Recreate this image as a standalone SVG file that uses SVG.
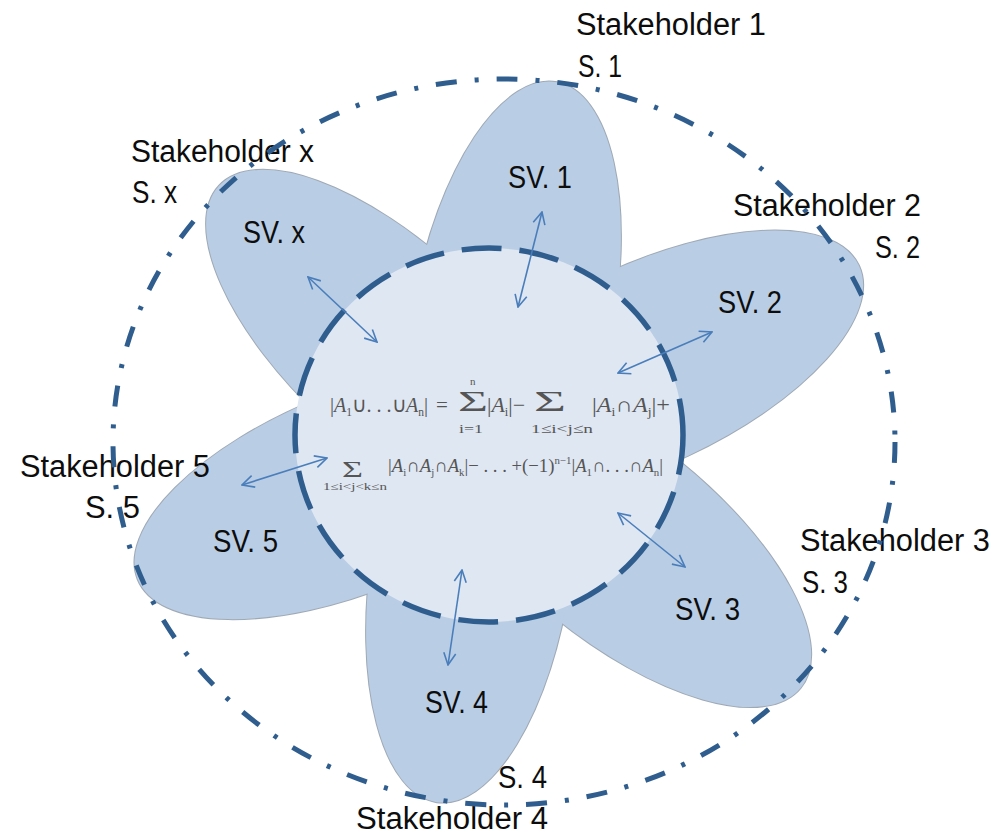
<svg xmlns="http://www.w3.org/2000/svg" xmlns:xlink="http://www.w3.org/1999/xlink" width="999" height="835" viewBox="0 0 999 835">
<style>
.lbl{font-family:"Liberation Sans",Arial,sans-serif;font-size:31px;fill:#0d0d0d}
.pf{fill:#b9cde5}
.po{fill:none;stroke:#9fa9b5;stroke-width:2}
.fm{font-family:"Liberation Serif","Times New Roman",serif;fill:#555555}
.conn{stroke:#4a7ebb;stroke-width:1.6;fill:none;marker-start:url(#ah);marker-end:url(#ah)}
</style>
<defs>
<marker id="ah" viewBox="0 0 14 14" refX="13" refY="7" markerWidth="14" markerHeight="14" markerUnits="userSpaceOnUse" orient="auto-start-reverse">
<path d="M1,1 L13,7 L1,13" fill="none" stroke="#4a7ebb" stroke-width="1.6"/>
</marker>
<ellipse id="e1" cx="513.4" cy="313.2" rx="235" ry="100" transform="rotate(-79.3 513.4 313.2)"/>
<ellipse id="e2" cx="646" cy="365" rx="235" ry="100" transform="rotate(-25 646 365)"/>
<ellipse id="e3" cx="618" cy="540" rx="235" ry="100" transform="rotate(39 618 540)"/>
<ellipse id="e4" cx="470.7" cy="569.6" rx="235" ry="100" transform="rotate(98.3 470.7 569.6)"/>
<ellipse id="e5" cx="355.6" cy="491.3" rx="235" ry="100" transform="rotate(158 355.6 491.3)"/>
<ellipse id="ex" cx="391" cy="346" rx="235" ry="100" transform="rotate(-137 391 346)"/>
</defs>
<rect width="999" height="835" fill="#ffffff"/>
<g id="petal-outlines">
<use xlink:href="#e1" href="#e1" class="po"/>
<use xlink:href="#e2" href="#e2" class="po"/>
<use xlink:href="#e3" href="#e3" class="po"/>
<use xlink:href="#e4" href="#e4" class="po"/>
<use xlink:href="#e5" href="#e5" class="po"/>
<use xlink:href="#ex" href="#ex" class="po"/>
</g>
<g id="stakeholder-1">
<use xlink:href="#e1" href="#e1" class="pf"/>
<text class="lbl" x="508" y="188" textLength="64" lengthAdjust="spacingAndGlyphs">SV. 1</text>
<text class="lbl" x="576" y="35" textLength="190" lengthAdjust="spacingAndGlyphs">Stakeholder 1</text>
<text class="lbl" x="578" y="77" textLength="44" lengthAdjust="spacingAndGlyphs">S. 1</text>
</g>
<g id="stakeholder-2">
<use xlink:href="#e2" href="#e2" class="pf"/>
<text class="lbl" x="718" y="313" textLength="64" lengthAdjust="spacingAndGlyphs">SV. 2</text>
<text class="lbl" x="733" y="216" textLength="188" lengthAdjust="spacingAndGlyphs">Stakeholder 2</text>
<text class="lbl" x="875" y="258" textLength="45" lengthAdjust="spacingAndGlyphs">S. 2</text>
</g>
<g id="stakeholder-3">
<use xlink:href="#e3" href="#e3" class="pf"/>
<text class="lbl" x="675" y="620" textLength="65" lengthAdjust="spacingAndGlyphs">SV. 3</text>
<text class="lbl" x="800" y="551" textLength="190" lengthAdjust="spacingAndGlyphs">Stakeholder 3</text>
<text class="lbl" x="802" y="593" textLength="46" lengthAdjust="spacingAndGlyphs">S. 3</text>
</g>
<g id="stakeholder-4">
<use xlink:href="#e4" href="#e4" class="pf"/>
<text class="lbl" x="425" y="713" textLength="63" lengthAdjust="spacingAndGlyphs">SV. 4</text>
<text class="lbl" x="356" y="829" textLength="192" lengthAdjust="spacingAndGlyphs">Stakeholder 4</text>
<text class="lbl" x="498" y="788" textLength="49" lengthAdjust="spacingAndGlyphs">S. 4</text>
</g>
<g id="stakeholder-5">
<use xlink:href="#e5" href="#e5" class="pf"/>
<text class="lbl" x="213" y="552" textLength="65" lengthAdjust="spacingAndGlyphs">SV. 5</text>
<text class="lbl" x="20" y="477" textLength="190" lengthAdjust="spacingAndGlyphs">Stakeholder 5</text>
<text class="lbl" x="85" y="518" textLength="55" lengthAdjust="spacingAndGlyphs">S. 5</text>
</g>
<g id="stakeholder-x">
<use xlink:href="#ex" href="#ex" class="pf"/>
<text class="lbl" x="243" y="243" textLength="62" lengthAdjust="spacingAndGlyphs">SV. x</text>
<text class="lbl" x="131" y="162" textLength="183" lengthAdjust="spacingAndGlyphs">Stakeholder x</text>
<text class="lbl" x="132" y="203" textLength="45" lengthAdjust="spacingAndGlyphs">S. x</text>
</g>
<g id="shared-core">
<ellipse cx="489" cy="435" rx="194" ry="187" fill="#dfe7f2" stroke="#2f5d8e" stroke-width="5.5" stroke-dasharray="40 18"/>
<g id="formula" class="fm">
<text x="330" y="412" font-size="21" textLength="98" lengthAdjust="spacingAndGlyphs">|<tspan font-style="italic">A</tspan><tspan font-size="12" dy="4">1</tspan><tspan dy="-4">∪. . .∪</tspan><tspan font-style="italic">A</tspan><tspan font-size="12" dy="4">n</tspan><tspan dy="-4">|</tspan></text>
<text x="436" y="412" font-size="21">=</text>
<text x="458" y="411" font-size="30" textLength="30" lengthAdjust="spacingAndGlyphs">Σ</text>
<text x="470" y="385" font-size="11">n</text>
<text x="459" y="433" font-size="13" textLength="24" lengthAdjust="spacingAndGlyphs">i=1</text>
<text x="487" y="412" font-size="21" textLength="38" lengthAdjust="spacingAndGlyphs">|<tspan font-style="italic">A</tspan><tspan font-size="12" dy="4">i</tspan><tspan dy="-4">|−</tspan></text>
<text x="534" y="411" font-size="30" textLength="32" lengthAdjust="spacingAndGlyphs">Σ</text>
<text x="531" y="433" font-size="13" textLength="62" lengthAdjust="spacingAndGlyphs">1≤i&lt;j≤n</text>
<text x="592" y="412" font-size="21" textLength="78" lengthAdjust="spacingAndGlyphs">|<tspan font-style="italic">A</tspan><tspan font-size="12" dy="4">i</tspan><tspan dy="-4">∩</tspan><tspan font-style="italic">A</tspan><tspan font-size="12" dy="4">j</tspan><tspan dy="-4">|+</tspan></text>
<text x="342" y="477" font-size="23" textLength="21" lengthAdjust="spacingAndGlyphs">Σ</text>
<text x="323" y="490" font-size="10" textLength="64" lengthAdjust="spacingAndGlyphs">1≤i&lt;j&lt;k≤n</text>
<text x="388" y="472" font-size="19" textLength="275" lengthAdjust="spacingAndGlyphs">|<tspan font-style="italic">A</tspan><tspan font-size="11" dy="4">i</tspan><tspan dy="-4">∩</tspan><tspan font-style="italic">A</tspan><tspan font-size="11" dy="4">j</tspan><tspan dy="-4">∩</tspan><tspan font-style="italic">A</tspan><tspan font-size="11" dy="4">k</tspan><tspan dy="-4">|− . . . +(−1)</tspan><tspan font-size="11" dy="-8">n−1</tspan><tspan dy="8">|</tspan><tspan font-style="italic">A</tspan><tspan font-size="11" dy="4">1</tspan><tspan dy="-4">∩. . .∩</tspan><tspan font-style="italic">A</tspan><tspan font-size="11" dy="4">n</tspan><tspan dy="-4">|</tspan></text>
</g>
</g>
<g id="boundary">
<ellipse cx="504" cy="442" rx="391" ry="363" fill="none" stroke="#2f5d8e" stroke-width="5" stroke-dasharray="21 18 4 18"/>
</g>
<g id="connectors">
<line class="conn" x1="542" y1="212" x2="518" y2="307"/>
<line class="conn" x1="712" y1="332" x2="618" y2="373"/>
<line class="conn" x1="618" y1="513" x2="685" y2="567"/>
<line class="conn" x1="462" y1="570" x2="448" y2="665"/>
<line class="conn" x1="327" y1="458" x2="242" y2="485"/>
<line class="conn" x1="308" y1="277" x2="377" y2="342"/>
</g>
</svg>
